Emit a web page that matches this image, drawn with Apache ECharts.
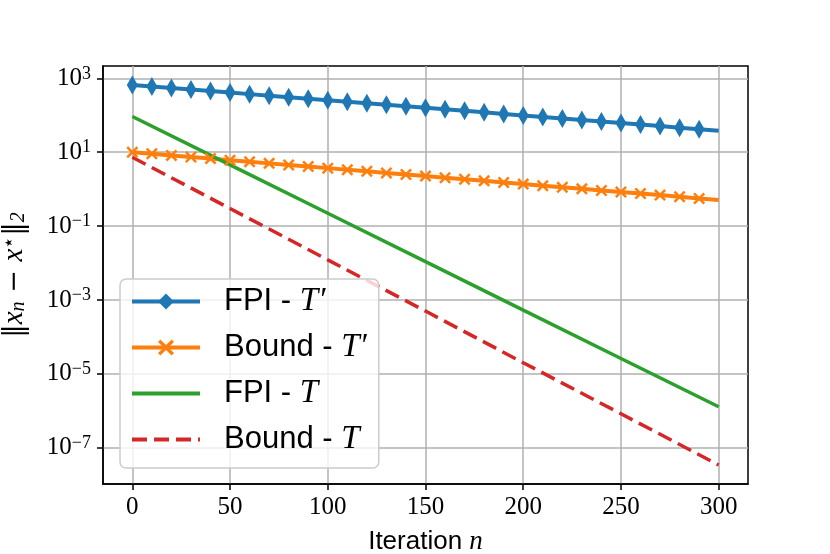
<!DOCTYPE html>
<html>
<head>
<meta charset="utf-8">
<script src="https://cdn.jsdelivr.net/npm/echarts@6/dist/echarts.min.js"></script>
<style>
    html, body { margin: 0; padding: 0; background: #fff; }
    #chart { width: 830px; height: 554px; }
</style>
</head>
<body>
<div id="chart"></div>
<script>
// iterations with markers (every 10) for the T' curves
const itersMarked = [0, 10, 20, 30, 40, 50, 60, 70, 80, 90, 100, 110, 120, 130, 140, 150,
    160, 170, 180, 190, 200, 210, 220, 230, 240, 250, 260, 270, 280, 290, 300];
const fpiTp = [661, 601, 547, 497, 452, 411, 374, 340, 309, 281, 256, 232, 211, 192, 175, 159,
    145, 132, 120, 109, 99, 90, 82, 74, 68, 62, 56, 51, 46, 42, 38];
const boundTp = [10.0, 9.05, 8.20, 7.42, 6.72, 6.09, 5.51, 4.99, 4.52, 4.09, 3.71, 3.36, 3.04, 2.75,
    2.49, 2.26, 2.04, 1.85, 1.68, 1.52, 1.37, 1.24, 1.13, 1.02, 0.92, 0.84, 0.76, 0.69, 0.62, 0.56, 0.51];

// the T curves are plain straight lines on the log axis
const itersPlain = [0, 50, 100, 150, 200, 250, 300];
const fpiT = [93, 4.56, 0.223, 0.0109, 5.3e-4, 2.6e-5, 1.28e-6];
const boundT = [7.3, 0.299, 0.0122, 5.0e-4, 2.0e-5, 8.3e-7, 3.4e-8];

const xTicks = [0, 50, 100, 150, 200, 250, 300];
const yTicks = [1e-7, 1e-5, 1e-3, 1e-1, 1e1, 1e3];

const serif = '"Liberation Serif", "DejaVu Serif", serif';
const sans = '"Liberation Sans", Arial, sans-serif';
const colors = ['#1f77b4', '#ff7f0e', '#2ca02c', '#d62728'];

// filled "x" marker
const xMark = 'path://M0,1.5L1.5,0L5,3.5L8.5,0L10,1.5L6.5,5L10,8.5L8.5,10L5,6.5L1.5,10L0,8.5L3.5,5Z';

function pairs(xs, ys, dropLastSymbol) {
    return xs.map((x, i) => {
        const item = { value: [x, ys[i]] };
        if (dropLastSymbol && i === xs.length - 1) item.symbol = 'none';
        return item;
    });
}

function powLabel(v) {
    const e = Math.round(Math.log10(v));
    return '{b|10}{s|' + (e < 0 ? '\u2212' + (-e) : e) + '}';
}

const chart = echarts.init(document.getElementById('chart'));
chart.setOption({
    animation: false,
    color: colors,
    grid: {
        left: 103, right: 82, top: 66, bottom: 70,
        outerBoundsMode: 'none',
        show: true, borderColor: '#000', borderWidth: 1.5, backgroundColor: 'transparent'
    },
    xAxis: {
        type: 'value',
        min: -15, max: 315,
        name: 'Iteration {i|n}',
        nameLocation: 'middle',
        nameGap: 44,
        nameTextStyle: {
            fontFamily: sans, fontSize: 26, color: '#000',
            rich: { i: { fontFamily: serif, fontStyle: 'italic', fontSize: 27 } }
        },
        axisLine: { show: true, onZero: false, lineStyle: { color: '#000', width: 1.5 } },
        axisTick: { show: true, length: 6, lineStyle: { color: '#000', width: 1.5 }, customValues: xTicks },
        axisLabel: { customValues: xTicks, fontFamily: serif, fontSize: 25, color: '#000', margin: 11 },
        splitLine: { show: true, lineStyle: { color: '#b0b0b0', width: 1.5 } }
    },
    yAxis: {
        type: 'log',
        logBase: 10,
        min: 1.04e-8, max: 2160,
        name: '{r|\u2016}{i|x}{sub|n}{r| \u2212 }{i|x}{sup|\u22c6}{r|\u2016}{sub|2}',
        nameLocation: 'middle',
        nameGap: 74,
        nameTextStyle: {
            color: '#000',
            rich: {
                r: { fontFamily: '"DejaVu Serif", serif', fontSize: 27 },
                i: { fontFamily: serif, fontStyle: 'italic', fontSize: 29 },
                sub: { fontFamily: serif, fontStyle: 'italic', fontSize: 20, verticalAlign: 'bottom', padding: [8, 0, 0, 0] },
                sup: { fontFamily: serif, fontSize: 20, verticalAlign: 'top', padding: [0, 0, 8, 0] }
            }
        },
        axisLine: { show: true, onZero: false, lineStyle: { color: '#000', width: 1.5 } },
        axisTick: { show: true, length: 6, lineStyle: { color: '#000', width: 1.5 }, customValues: yTicks },
        axisLabel: {
            customValues: yTicks,
            formatter: powLabel,
            margin: 12,
            color: '#000',
            rich: {
                b: { fontFamily: serif, fontSize: 25 },
                s: { fontFamily: serif, fontSize: 18, verticalAlign: 'top', padding: [0, 0, 9, 0] }
            }
        },
        splitLine: { show: true, lineStyle: { color: '#b0b0b0', width: 1.5 } },
        minorTick: { show: false }
    },
    legend: {
        orient: 'vertical',
        left: 120, top: 279,
        padding: [6, 12, 12, 10],
        itemWidth: 68, itemHeight: 20, itemGap: 13,
        backgroundColor: 'rgba(255,255,255,0.8)',
        borderColor: '#cccccc', borderWidth: 1.5, borderRadius: 6,
        lineStyle: { width: 4 },
        formatter: name => {
            const parts = name.split(' - ');
            return '{a|' + parts[0] + ' - }{m|' + parts[1] + '}';
        },
        textStyle: {
            color: '#000',
            padding: [0, 0, 0, 19],
            rich: {
                a: { fontFamily: sans, fontSize: 31, color: '#000' },
                m: { fontFamily: serif, fontStyle: 'italic', fontSize: 33, color: '#000' }
            }
        },
        data: [
            { name: 'FPI - T\u2032' },
            { name: 'Bound - T\u2032' },
            { name: 'FPI - T', itemStyle: { opacity: 0 } },
            { name: 'Bound - T', itemStyle: { opacity: 0 } }
        ]
    },
    series: [
        {
            name: 'FPI - T\u2032',
            type: 'line',
            data: pairs(itersMarked, fpiTp, true),
            symbol: 'diamond',
            symbolSize: [11, 19],
            lineStyle: { width: 4, color: colors[0] },
            itemStyle: { color: colors[0] },
            z: 3
        },
        {
            name: 'Bound - T\u2032',
            type: 'line',
            data: pairs(itersMarked, boundTp, true),
            symbol: xMark,
            symbolSize: 12,
            lineStyle: { width: 4, color: colors[1] },
            itemStyle: { color: colors[1] },
            z: 3
        },
        {
            name: 'FPI - T',
            type: 'line',
            data: pairs(itersPlain, fpiT, false),
            symbol: 'none',
            lineStyle: { width: 3.5, color: colors[2] },
            itemStyle: { color: colors[2] },
            z: 3
        },
        {
            name: 'Bound - T',
            type: 'line',
            data: pairs(itersPlain, boundT, false),
            symbol: 'none',
            lineStyle: { width: 3.5, color: colors[3], type: [15, 7] },
            itemStyle: { color: colors[3] },
            z: 3
        }
    ]
});
</script>
</body>
</html>
